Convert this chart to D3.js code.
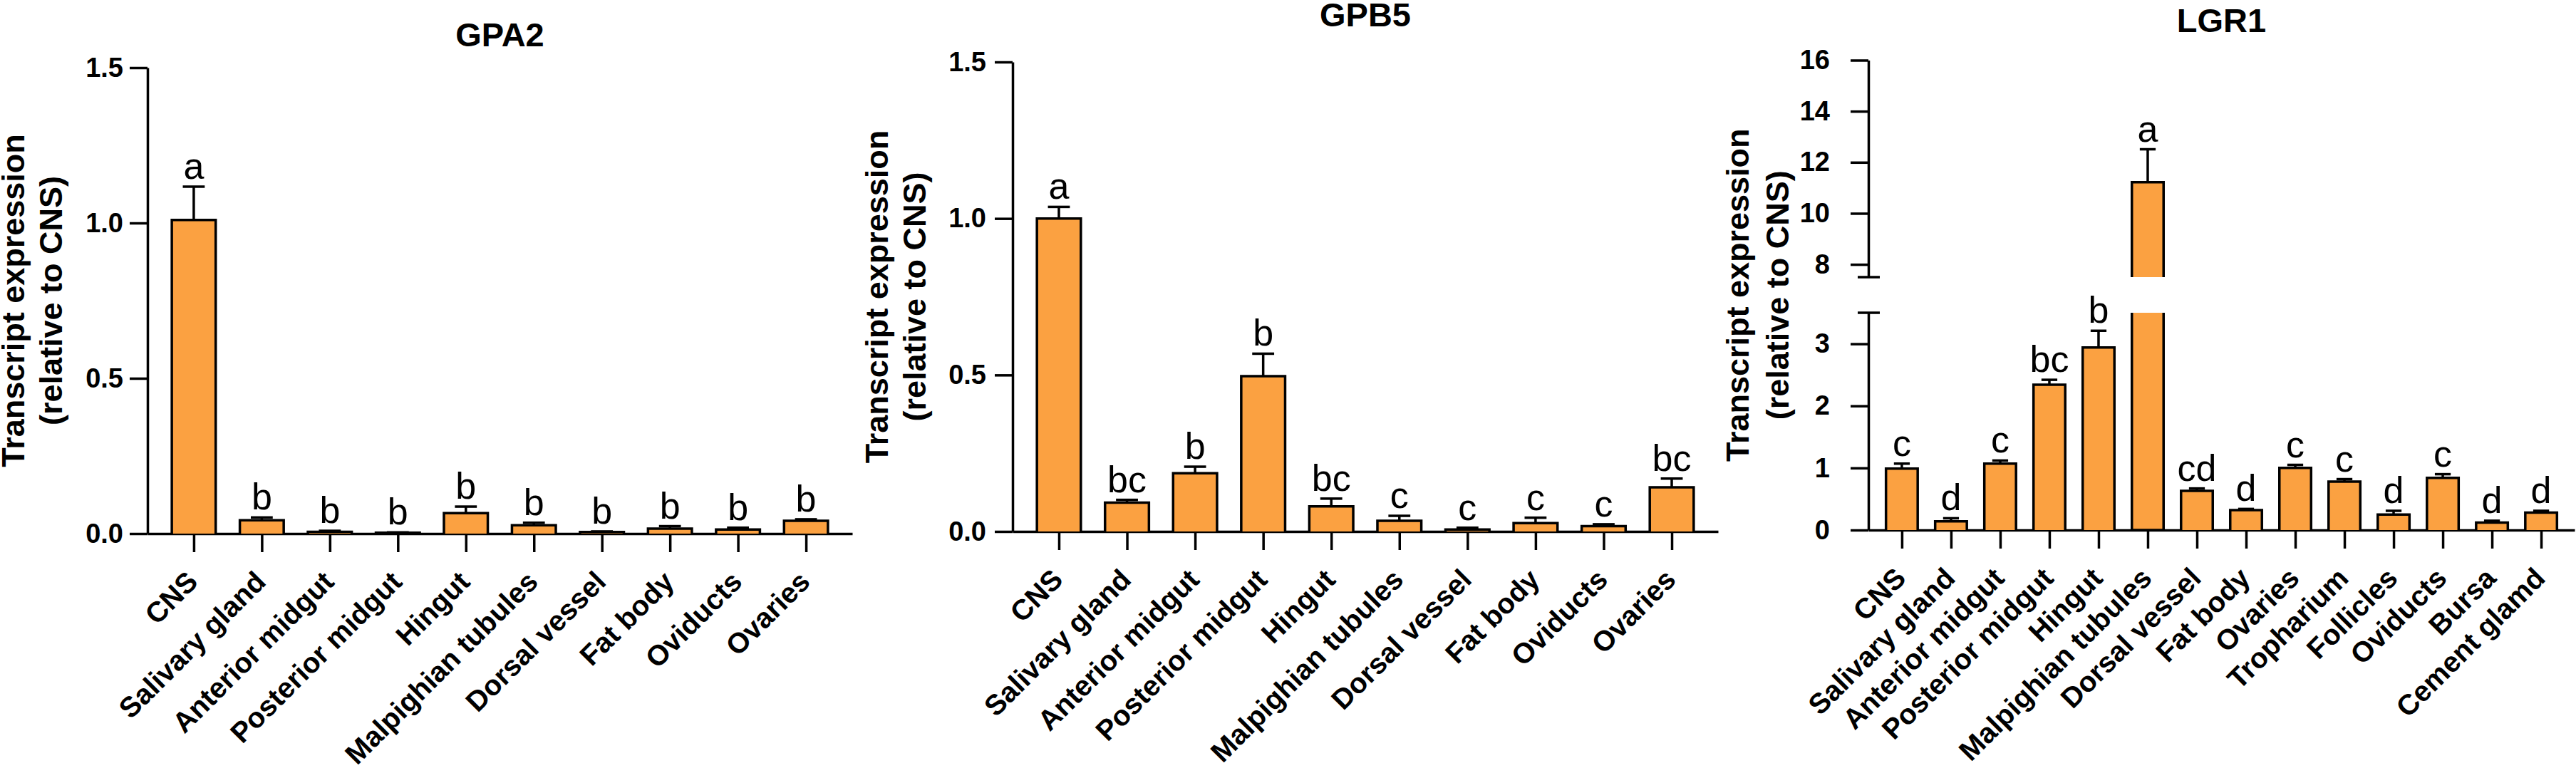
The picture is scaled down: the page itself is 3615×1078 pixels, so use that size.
<!DOCTYPE html>
<html>
<head>
<meta charset="utf-8">
<script src="https://cdn.jsdelivr.net/npm/d3@7/dist/d3.min.js"></script>
<style>
  body { margin: 0; background: #fff; }
  svg text { font-family: "Liberation Sans", Arial, sans-serif; }
</style>
</head>
<body>
<div id="main"></div>
<script>
// ---- data ----
const gpTissues = ["CNS", "Salivary gland", "Anterior midgut", "Posterior midgut", "Hingut",
                   "Malpighian tubules", "Dorsal vessel", "Fat body", "Oviducts", "Ovaries"];

const gpa2Mean    = [1.01, 0.043, 0.006, 0.003, 0.066, 0.027, 0.005, 0.016, 0.013, 0.041];
const gpa2Sem     = [0.107, 0.009, 0.003, 0.001, 0.021, 0.008, 0.002, 0.008, 0.006, 0.005];
const gpa2Letters = ["a", "b", "b", "b", "b", "b", "b", "b", "b", "b"];

const gpb5Mean    = [1.0, 0.092, 0.186, 0.496, 0.08, 0.034, 0.006, 0.027, 0.017, 0.141];
const gpb5Sem     = [0.037, 0.009, 0.021, 0.072, 0.025, 0.016, 0.006, 0.017, 0.006, 0.028];
const gpb5Letters = ["a", "bc", "b", "b", "bc", "c", "c", "c", "c", "bc"];

const lgr1Tissues = ["CNS", "Salivary gland", "Anterior midgut", "Posterior midgut", "Hingut",
                     "Malpighian tubules", "Dorsal vessel", "Fat body", "Ovaries", "Tropharium",
                     "Follicles", "Oviducts", "Bursa", "Cement glamd"];
const lgr1Mean    = [0.99, 0.14, 1.07, 2.34, 2.94, 11.22, 0.63, 0.32, 1.0, 0.78, 0.25, 0.84, 0.12, 0.28];
const lgr1Sem     = [0.08, 0.05, 0.05, 0.08, 0.27, 1.29, 0.04, 0.02, 0.05, 0.04, 0.06, 0.06, 0.03, 0.03];
const lgr1Letters = ["c", "d", "c", "bc", "b", "a", "cd", "d", "c", "c", "d", "c", "d", "d"];

const smallTicks = [0, 0.5, 1.0, 1.5];
const lgr1LowTicks = [0, 1, 2, 3];
const lgr1HighTicks = [8, 10, 12, 14, 16];

const W = 3615, H = 1078;
const ORANGE = "#fba141";
const LW = 3.5;

const svg = d3.select("#main").append("svg")
    .attr("width", W).attr("height", H);

function drawPanel(p) {
    const g = svg.append("g");
    const x = d3.scalePoint().domain(p.tissues).range([p.x0, p.x1]).padding(0.68);
    const bw = x.step() * 0.645;
    const yv = p.yv;
    const base = yv(0);

    // y axes (one per segment when the axis is broken)
    p.segments.forEach(s => {
        const ax = g.append("g")
            .attr("transform", `translate(${p.x0},0)`)
            .call(d3.axisLeft(s.scale).tickValues(s.ticks).tickSize(25)
                .tickSizeOuter(0).tickPadding(p.tickPad).tickFormat(s.fmt));
        ax.selectAll("path, line").attr("stroke", "#000").attr("stroke-width", LW);
        ax.selectAll("text").attr("font-size", 38).attr("font-weight", "bold")
            .attr("fill", "#000").attr("font-family", "Liberation Sans, Arial, sans-serif");
    });
    (p.breaks || []).forEach(b => {
        g.append("line").attr("x1", p.x0 - 15).attr("x2", p.x0 + 16)
            .attr("y1", b).attr("y2", b).attr("stroke", "#000").attr("stroke-width", LW);
    });

    // x axis
    const xa = g.append("g")
        .attr("transform", `translate(0,${base})`)
        .call(d3.axisBottom(x).tickSize(26).tickSizeOuter(0).tickFormat(""));
    xa.selectAll("path, line").attr("stroke", "#000").attr("stroke-width", LW);

    // bars
    p.tissues.forEach((t, i) => {
        const cx = x(t), m = p.mean[i], e = m + p.sem[i];
        const l = cx - bw / 2, r = cx + bw / 2;
        const parts = p.split && m > p.split.lo
            ? [{ y0: base, y1: yv(p.split.lo), open: "top" }, { y0: yv(p.split.hi), y1: yv(m), open: "bottom" }]
            : [{ y0: base, y1: yv(m), open: "none" }];
        parts.forEach(pt => {
            g.append("rect").attr("x", l).attr("y", pt.y1).attr("width", bw)
                .attr("height", Math.max(0, pt.y0 - pt.y1)).attr("fill", ORANGE);
            const d = pt.open === "top"
                ? `M${l},${pt.y1}V${pt.y0}H${r}V${pt.y1}`
                : `M${l},${pt.y0}V${pt.y1}H${r}V${pt.y0}`;
            g.append("path").attr("d", d).attr("fill", "none")
                .attr("stroke", "#000").attr("stroke-width", LW);
        });
        // error bar (upper only)
        g.append("line").attr("x1", cx).attr("x2", cx).attr("y1", yv(m)).attr("y2", yv(e))
            .attr("stroke", "#000").attr("stroke-width", LW);
        g.append("line").attr("x1", cx - bw / 4).attr("x2", cx + bw / 4)
            .attr("y1", yv(e)).attr("y2", yv(e))
            .attr("stroke", "#000").attr("stroke-width", LW);
        // significance letter
        g.append("text").attr("x", cx).attr("y", yv(e) - 11)
            .attr("text-anchor", "middle").attr("font-size", 52)
            .attr("font-family", "Open Sans, Noto Sans, sans-serif")
            .text(p.letters[i]);
        // tissue label
        g.append("text")
            .attr("transform", `translate(${cx + 8},${base + 70}) rotate(-45)`)
            .attr("text-anchor", "end").attr("font-size", 40).attr("font-weight", "bold")
            .text(t);
    });

    // title
    g.append("text").attr("x", (p.x0 + p.x1) / 2).attr("y", p.titleY)
        .attr("text-anchor", "middle").attr("font-size", 47).attr("font-weight", "bold")
        .text(p.title);

    // y label, two lines
    const cy = (p.yTop + base) / 2;
    [["Transcript expression", p.lab1], ["(relative to CNS)", p.lab2]].forEach(([s, off]) => {
        g.append("text")
            .attr("transform", `translate(${p.x0 + off},${cy}) rotate(-90)`)
            .attr("text-anchor", "middle").attr("font-size", 45).attr("font-weight", "bold")
            .text(s);
    });
}

// GPA2
const yA = d3.scaleLinear().domain([0, 1.5]).range([749, 95]);
drawPanel({
    title: "GPA2", titleY: 65, tissues: gpTissues, mean: gpa2Mean, sem: gpa2Sem, letters: gpa2Letters,
    x0: 207, x1: 1196, yv: yA, yTop: 95, tickPad: 9, lab1: -173, lab2: -120,
    segments: [{ scale: yA, ticks: smallTicks, fmt: d3.format(".1f") }]
});

// GPB5
const yB = d3.scaleLinear().domain([0, 1.5]).range([746, 87]);
drawPanel({
    title: "GPB5", titleY: 37, tissues: gpTissues, mean: gpb5Mean, sem: gpb5Sem, letters: gpb5Letters,
    x0: 1421, x1: 2411, yv: yB, yTop: 87, tickPad: 12, lab1: -175, lab2: -122,
    segments: [{ scale: yB, ticks: smallTicks, fmt: d3.format(".1f") }]
});

// LGR1 (broken axis)
const yLow = d3.scaleLinear().domain([0, 3.5]).range([744, 439]);
const yHigh = d3.scaleLinear().domain([7.5, 16]).range([389, 84.5]);
const yC = v => v <= 3.5 ? yLow(v) : yHigh(v);
drawPanel({
    title: "LGR1", titleY: 45, tissues: lgr1Tissues, mean: lgr1Mean, sem: lgr1Sem, letters: lgr1Letters,
    x0: 2622, x1: 3613, yv: yC, yTop: 84.5, tickPad: 29, lab1: -168, lab2: -112,
    split: { lo: 3.5, hi: 7.5 }, breaks: [yHigh(7.5), yLow(3.5)],
    segments: [
        { scale: yLow, ticks: lgr1LowTicks, fmt: d3.format("d") },
        { scale: yHigh, ticks: lgr1HighTicks, fmt: d3.format("d") }
    ]
});
</script>
</body>
</html>
